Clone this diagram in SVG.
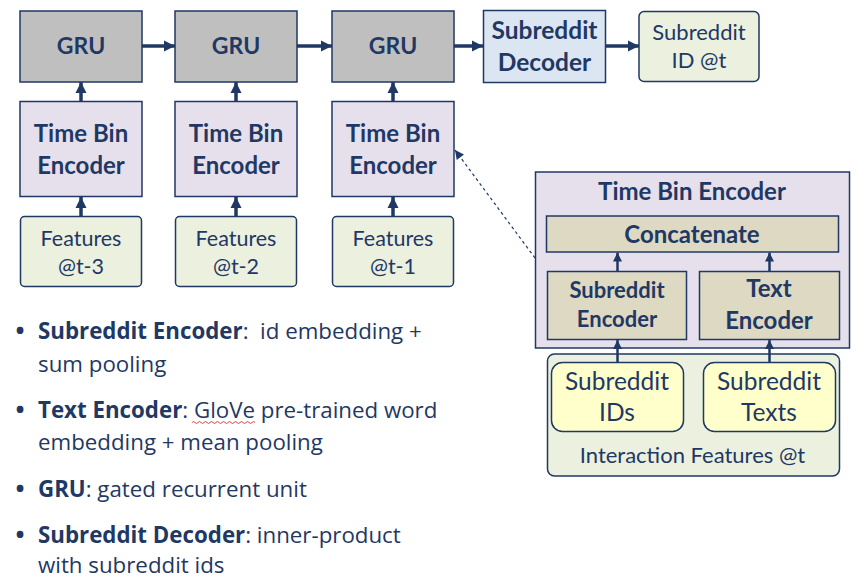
<svg xmlns="http://www.w3.org/2000/svg" width="867" height="580" viewBox="0 0 867 580">
<defs>
<style>
text{font-family:Lato,"Open Sans","Liberation Sans",sans-serif;fill:#1f3864;text-anchor:middle}
.b{font-weight:bold}
.box{stroke:#1f3864;stroke-width:1.5}
.gru{fill:#bfbfbf}
.tbe{fill:#e6e0ec}
.feat{fill:#ebf1de}
.dec{fill:#dce6f2}
.tan{fill:#ddd9c3}
.yel{fill:#ffffcc}
.arr{stroke:#1f3864;stroke-width:3.5;fill:none}
.thin{stroke:#1f3864;stroke-width:2.5;fill:none}
.bl{text-anchor:start;font-size:22.3px;font-family:"Open Sans",Lato,"Liberation Sans",sans-serif}
.dot{text-anchor:middle;font-size:24px;font-weight:bold;font-family:"Open Sans",Lato,"Liberation Sans",sans-serif}
</style>
<marker id="ah" viewBox="0 0 10 10" refX="10" refY="5" markerWidth="11" markerHeight="12" markerUnits="userSpaceOnUse" orient="auto"><path d="M0,0 L10,5 L0,10 Z" fill="#1f3864"/></marker>
<marker id="ahs" viewBox="0 0 10 10" refX="10" refY="5" markerWidth="9" markerHeight="9" markerUnits="userSpaceOnUse" orient="auto"><path d="M0,0 L10,5 L0,10 Z" fill="#1f3864"/></marker>
<marker id="ahd" viewBox="0 0 10 10" refX="10" refY="5" markerWidth="10" markerHeight="9" markerUnits="userSpaceOnUse" orient="auto"><path d="M0,0 L10,5 L0,10 Z" fill="#1f3864"/></marker>
</defs>
<rect width="867" height="580" fill="#ffffff"/>

<g id="gru1"><rect class="box gru" x="20" y="11" width="122" height="71"/><text class="b" x="81" y="54" font-size="23">GRU</text></g>
<g id="gru2"><rect class="box gru" x="175" y="11" width="122" height="71"/><text class="b" x="236" y="54" font-size="23">GRU</text></g>
<g id="gru3"><rect class="box gru" x="332" y="11" width="122" height="71"/><text class="b" x="393" y="54" font-size="23">GRU</text></g>

<g id="tbe1"><rect class="box tbe" x="20" y="101.5" width="122" height="95"/><text class="b" x="81" y="142" font-size="24">Time Bin</text><text class="b" x="81" y="174" font-size="24">Encoder</text></g>
<g id="tbe2"><rect class="box tbe" x="175" y="101.5" width="122" height="95"/><text class="b" x="236" y="142" font-size="24">Time Bin</text><text class="b" x="236" y="174" font-size="24">Encoder</text></g>
<g id="tbe3"><rect class="box tbe" x="332" y="101.5" width="122" height="95"/><text class="b" x="393" y="142" font-size="24">Time Bin</text><text class="b" x="393" y="174" font-size="24">Encoder</text></g>

<g id="feat1"><rect class="box feat" x="20.5" y="216.5" width="121" height="70" rx="4"/><text x="81" y="246" font-size="21.5">Features</text><text x="81" y="274" font-size="21.5">@t-3</text></g>
<g id="feat2"><rect class="box feat" x="175.5" y="216.5" width="121" height="70" rx="4"/><text x="236" y="246" font-size="21.5">Features</text><text x="236" y="274" font-size="21.5">@t-2</text></g>
<g id="feat3"><rect class="box feat" x="332.5" y="216.5" width="121" height="70" rx="4"/><text x="393" y="246" font-size="21.5">Features</text><text x="393" y="274" font-size="21.5">@t-1</text></g>

<g id="decoder"><rect class="box dec" x="483.5" y="10.5" width="122" height="72"/><text class="b" x="544.5" y="39" font-size="24.5">Subreddit</text><text class="b" x="544.5" y="71" font-size="24.5">Decoder</text></g>
<g id="output"><rect class="box feat" x="639" y="11.5" width="120" height="70" rx="5"/><text x="699" y="40" font-size="22">Subreddit</text><text x="699" y="68" font-size="22">ID @t</text></g>

<g id="tbe-detail">
<rect class="box tbe" x="535.5" y="172" width="314" height="176"/>
<text class="b" x="692" y="200" font-size="24">Time Bin Encoder</text>
</g>
<g id="concat"><rect class="box tan" x="546.5" y="216" width="292" height="36"/><text class="b" x="692" y="243" font-size="24">Concatenate</text></g>
<g id="subenc"><rect class="box tan" x="547.5" y="271.5" width="139" height="68"/><text class="b" x="617" y="298" font-size="22">Subreddit</text><text class="b" x="617" y="327" font-size="22">Encoder</text></g>
<g id="txtenc"><rect class="box tan" x="699.5" y="271.5" width="140" height="68"/><text class="b" x="769" y="297" font-size="24">Text</text><text class="b" x="769" y="329" font-size="24">Encoder</text></g>

<g id="interaction"><rect class="box feat" x="547.5" y="354" width="292" height="122" rx="7"/><text x="692.5" y="463" font-size="22">Interaction Features @t</text></g>
<g id="ids"><rect class="box yel" x="551.5" y="362.5" width="132" height="69" rx="11"/><text x="617" y="390" font-size="24.5">Subreddit</text><text x="617" y="421" font-size="24.5">IDs</text></g>
<g id="texts"><rect class="box yel" x="703.5" y="362.5" width="132" height="69" rx="11"/><text x="769" y="390" font-size="24.5">Subreddit</text><text x="769" y="421" font-size="24.5">Texts</text></g>

<g id="connectors">
<line class="arr" x1="142" y1="46" x2="175" y2="46" marker-end="url(#ah)"/>
<line class="arr" x1="297" y1="46" x2="332" y2="46" marker-end="url(#ah)"/>
<line class="arr" x1="454" y1="46" x2="483" y2="46" marker-end="url(#ah)"/>
<line class="arr" x1="606" y1="46" x2="639" y2="46" marker-end="url(#ah)"/>
<line class="arr" x1="81" y1="101" x2="81" y2="82" marker-end="url(#ah)"/>
<line class="arr" x1="236" y1="101" x2="236" y2="82" marker-end="url(#ah)"/>
<line class="arr" x1="393" y1="101" x2="393" y2="82" marker-end="url(#ah)"/>
<line class="arr" x1="81" y1="216" x2="81" y2="197" marker-end="url(#ah)"/>
<line class="arr" x1="236" y1="216" x2="236" y2="197" marker-end="url(#ah)"/>
<line class="arr" x1="393" y1="216" x2="393" y2="197" marker-end="url(#ah)"/>
<line class="thin" x1="617.5" y1="271" x2="617.5" y2="252.5" marker-end="url(#ahs)"/>
<line class="thin" x1="769.5" y1="271" x2="769.5" y2="252.5" marker-end="url(#ahs)"/>
<line class="thin" x1="617.5" y1="362" x2="617.5" y2="340" marker-end="url(#ahs)"/>
<line class="thin" x1="769.5" y1="362" x2="769.5" y2="340" marker-end="url(#ahs)"/>
<line x1="535" y1="258" x2="455" y2="150" stroke="#1f3864" stroke-width="1.2" stroke-dasharray="3,3" marker-end="url(#ahd)"/>
</g>

<g id="bullets">
<text class="dot" x="20" y="339">•</text>
<text class="bl" x="38" y="339"><tspan class="b">Subreddit Encoder</tspan>:&#160; id embedding +</text>
<text class="bl" x="38" y="372">sum pooling</text>
<text class="dot" x="20" y="418">•</text>
<text class="bl" x="38" y="418"><tspan class="b">Text Encoder</tspan>: GloVe pre-trained word</text>
<text class="bl" x="38" y="450">embedding + mean pooling</text>
<text class="dot" x="20" y="497">•</text>
<text class="bl" x="38" y="497"><tspan class="b">GRU</tspan>: gated recurrent unit</text>
<text class="dot" x="20" y="543">•</text>
<text class="bl" x="38" y="543"><tspan class="b">Subreddit Decoder</tspan>: inner-product</text>
<text class="bl" x="38" y="573">with subreddit ids</text>
<path d="M192,422.5 q1.5,-2 3,0 t3,0 t3,0 t3,0 t3,0 t3,0 t3,0 t3,0 t3,0 t3,0 t3,0 t3,0 t3,0 t3,0 t3,0 t3,0 t3,0 t3,0 t3,0 t3,0 t3,0" fill="none" stroke="#e03030" stroke-width="0.9"/>
</g>
</svg>
